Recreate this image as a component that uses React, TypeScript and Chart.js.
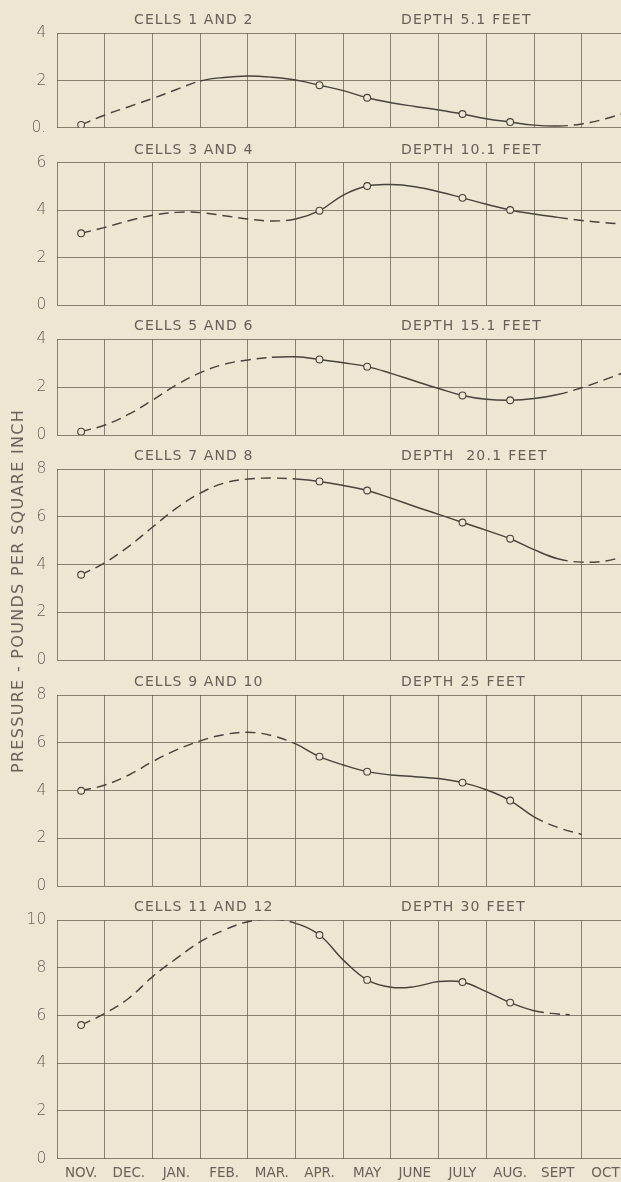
import React, { useEffect, useRef } from "react";
import { Chart, registerables } from "chart.js";

Chart.register(...registerables);

// ---------- data ----------
const MONTHS = ["NOV.", "DEC.", "JAN.", "FEB.", "MAR.", "APR.", "MAY", "JUNE", "JULY", "AUG.", "SEPT", "OCT"];
const MEASURED_MONTHS = [0, 5, 6, 8, 9];
const Y_TITLE = "PRESSURE - POUNDS PER SQUARE INCH";

const HALF_MONTHS = [0, 0.5, 1, 1.5, 2, 2.5, 3, 3.5, 4, 4.5, 5, 5.5, 6, 6.5, 7, 7.5, 8, 8.5, 9, 9.5, 10, 10.5, 11, 11.5];

const CELLS_1_2_Y = [0.12, 0.54, 0.89, 1.24, 1.62, 1.98, 2.13, 2.19, 2.14, 2.02, 1.8, 1.57, 1.27, 1.06, 0.9, 0.75, 0.58, 0.38, 0.24, 0.11, 0.07, 0.16, 0.38, 0.7];
const CELLS_3_4_Y = [3.03, 3.28, 3.56, 3.79, 3.91, 3.9, 3.77, 3.63, 3.55, 3.63, 3.98, 4.64, 5.02, 5.08, 4.99, 4.78, 4.52, 4.25, 4.01, 3.84, 3.7, 3.57, 3.47, 3.4];
const CELLS_5_6_Y = [0.15, 0.43, 0.88, 1.47, 2.1, 2.61, 2.96, 3.14, 3.25, 3.27, 3.16, 3.02, 2.86, 2.58, 2.26, 1.95, 1.66, 1.5, 1.46, 1.53, 1.7, 1.98, 2.33, 2.7];
const CELLS_7_8_Y = [3.57, 4.08, 4.76, 5.57, 6.36, 6.99, 7.41, 7.58, 7.62, 7.58, 7.48, 7.31, 7.1, 6.78, 6.43, 6.1, 5.76, 5.43, 5.08, 4.62, 4.24, 4.1, 4.15, 4.4];
const CELLS_9_10_X = [0, 0.5, 1, 1.5, 2, 2.5, 3, 3.5, 4, 4.5, 5, 5.5, 6, 6.5, 7, 7.5, 8, 8.5, 9, 9.5, 10, 10.5];
const CELLS_9_10_Y = [3.99, 4.23, 4.65, 5.21, 5.7, 6.08, 6.34, 6.44, 6.3, 5.95, 5.42, 5.07, 4.79, 4.65, 4.58, 4.5, 4.33, 4.03, 3.58, 2.9, 2.45, 2.16];
const CELLS_11_12_X = [0, 0.5, 1, 1.5, 2, 2.5, 3, 3.5, 4, 4.5, 5, 5.5, 6, 6.5, 7, 7.5, 8, 8.5, 9, 9.5, 10, 10.25];
const CELLS_11_12_Y = [5.6, 6.09, 6.72, 7.63, 8.39, 9.09, 9.58, 9.93, 10.03, 9.86, 9.37, 8.32, 7.49, 7.18, 7.21, 7.42, 7.4, 7.0, 6.54, 6.2, 6.06, 6.03];

// solid (observed) stretch of each curve, in month units
const SOLID_1_2 = [2.5, 10];
const SOLID_3_4 = [4.5, 10];
const SOLID_5_6 = [4, 10];
const SOLID_7_8 = [4.5, 10];
const SOLID_9_10 = [4.5, 9.5];
const SOLID_11_12 = [4.5, 9.5];

const TICKS_4_FIRST = ["0.", "2", "4"];
const TICKS_4 = ["0", "2", "4"];
const TICKS_6 = ["0", "2", "4", "6"];
const TICKS_8 = ["0", "2", "4", "6", "8"];
const TICKS_10 = ["0", "2", "4", "6", "8", "10"];

const CELL_TITLES = ["CELLS 1 AND 2", "CELLS 3 AND 4", "CELLS 5 AND 6", "CELLS 7 AND 8", "CELLS 9 AND 10", "CELLS 11 AND 12"];
const DEPTH_TITLES = ["DEPTH 5.1 FEET", "DEPTH 10.1 FEET", "DEPTH 15.1 FEET", "DEPTH  20.1 FEET", "DEPTH 25 FEET", "DEPTH 30 FEET"];

// ---------- style / layout ----------
const W = 621;
const H = 1182;
const RPAD = 40;
const BG = "#ede6d3";
const INK = "#48433c";
const GRID = "rgba(98,88,74,0.72)";
const TEXT = "#67615a";
const FONT = "'DejaVu Sans', sans-serif";
const AXIS_W = 57.3;
const X_MIN = -0.5;
const X_MAX = 11.325;
const PAD = 28;
const BOXES: [number, number][] = [
  [33.3, 127.7],
  [162.7, 305.3],
  [339.3, 435.3],
  [469, 660],
  [695, 886],
  [920, 1158.7],
];

type Spec = {
  xs: number[];
  ys: number[];
  solid: number[];
  ticks: string[];
};

const SPECS: Spec[] = [
  { xs: HALF_MONTHS, ys: CELLS_1_2_Y, solid: SOLID_1_2, ticks: TICKS_4_FIRST },
  { xs: HALF_MONTHS, ys: CELLS_3_4_Y, solid: SOLID_3_4, ticks: TICKS_6 },
  { xs: HALF_MONTHS, ys: CELLS_5_6_Y, solid: SOLID_5_6, ticks: TICKS_4 },
  { xs: HALF_MONTHS, ys: CELLS_7_8_Y, solid: SOLID_7_8, ticks: TICKS_8 },
  { xs: CELLS_9_10_X, ys: CELLS_9_10_Y, solid: SOLID_9_10, ticks: TICKS_8 },
  { xs: CELLS_11_12_X, ys: CELLS_11_12_Y, solid: SOLID_11_12, ticks: TICKS_10 },
];

Chart.defaults.font.family = FONT;

function Panel({ spec, index }: { spec: Spec; index: number }) {
  const ref = useRef<HTMLCanvasElement>(null);
  const [top, bottom] = BOXES[index];
  const isLast = index === BOXES.length - 1;
  const canvasTop = Math.round(top) - PAD;
  const padTop = top - canvasTop;
  const xAxisH = isLast ? 24 : 0;
  const canvasH = isLast ? Math.ceil(bottom - canvasTop + xAxisH) : Math.ceil(bottom + PAD - canvasTop);
  const padBottom = canvasH - xAxisH - (bottom - canvasTop);
  const canvasW = W + RPAD;

  useEffect(() => {
    const canvas = ref.current!;
    const yMax = (spec.ticks.length - 1) * 2;
    const data = spec.xs.map((x, i) => ({ x, y: spec.ys[i] }));
    const chart = new Chart(canvas, {
      type: "line",
      data: {
        datasets: [
          {
            data,
            borderColor: INK,
            borderWidth: 1.45,
            tension: 0.4,
            fill: false,
            pointRadius: data.map((p) => (MEASURED_MONTHS.includes(p.x) ? 3.4 : 0)),
            pointHoverRadius: 0,
            pointBackgroundColor: BG,
            pointBorderColor: INK,
            pointBorderWidth: 1.1,
            segment: {
              borderDash: (ctx: any) => {
                const x0 = spec.xs[ctx.p0DataIndex];
                const x1 = spec.xs[ctx.p1DataIndex];
                return x0 >= spec.solid[0] && x1 <= spec.solid[1] ? [] : [10, 6];
              },
            },
          },
        ],
      },
      options: {
        responsive: false,
        animation: false,
        events: [],
        layout: { padding: { top: padTop, bottom: padBottom, left: 0, right: RPAD } },
        plugins: { legend: { display: false }, tooltip: { enabled: false }, title: { display: false } },
        scales: {
          x: {
            type: "linear",
            min: X_MIN,
            max: X_MAX,
            afterBuildTicks: (scale: any) => {
              const t: { value: number }[] = [];
              for (let k = 0; k <= 24; k++) t.push({ value: -0.5 + k * 0.5 });
              scale.ticks = t;
            },
            afterFit: (scale: any) => {
              scale.height = xAxisH;
            },
            grid: {
              color: (ctx: any) => (Number.isInteger(ctx.tick?.value) ? "rgba(0,0,0,0)" : GRID),
              lineWidth: 1,
              drawTicks: false,
            },
            border: { display: false },
            ticks: {
              display: isLast,
              autoSkip: false,
              maxRotation: 0,
              minRotation: 0,
              padding: 7,
              color: TEXT,
              font: { size: 13.5, family: FONT },
              callback: (v: any) => (Number.isInteger(v) ? MONTHS[v] : ""),
            },
          },
          y: {
            type: "linear",
            min: 0,
            max: yMax,
            afterBuildTicks: (scale: any) => {
              scale.ticks = spec.ticks.map((_, i) => ({ value: i * 2 }));
            },
            afterFit: (scale: any) => {
              scale.width = AXIS_W;
            },
            grid: { color: GRID, lineWidth: 1, drawTicks: false },
            border: { display: false },
            ticks: {
              padding: 11,
              color: TEXT,
              font: { size: 15.5, family: FONT, weight: "200" as any },
              callback: (_v: any, i: number) => spec.ticks[i],
            },
          },
        },
      },
    });
    return () => chart.destroy();
  }, []);

  return (
    <canvas
      ref={ref}
      width={canvasW}
      height={canvasH}
      style={{ position: "absolute", left: 0, top: canvasTop, width: canvasW, height: canvasH }}
    />
  );
}

export default function App() {
  return (
    <div
      style={{
        position: "fixed",
        left: 0,
        top: 0,
        width: W,
        height: H,
        overflow: "hidden",
        background: BG,
        fontFamily: FONT,
      }}
    >
      {SPECS.map((s, i) => (
        <Panel key={i} spec={s} index={i} />
      ))}
      {BOXES.map(([top], i) => (
        <React.Fragment key={"t" + i}>
          <div
            style={{
              position: "absolute",
              left: 134,
              top: top - 14,
              transform: "translateY(-50%)",
              fontSize: 14,
              letterSpacing: "1.1px",
              color: TEXT,
              whiteSpace: "pre",
              lineHeight: 1,
            }}
          >
            {CELL_TITLES[i]}
          </div>
          <div
            style={{
              position: "absolute",
              left: 401,
              top: top - 14,
              transform: "translateY(-50%)",
              fontSize: 14,
              letterSpacing: "1.3px",
              color: TEXT,
              whiteSpace: "pre",
              lineHeight: 1,
            }}
          >
            {DEPTH_TITLES[i]}
          </div>
        </React.Fragment>
      ))}
      <div
        style={{
          position: "absolute",
          left: 17.5,
          top: 590.5,
          transform: "translate(-50%, -50%) rotate(-90deg)",
          fontSize: 16,
          letterSpacing: "1.3px",
          color: TEXT,
          whiteSpace: "nowrap",
          lineHeight: 1,
        }}
      >
        {Y_TITLE}
      </div>
    </div>
  );
}
